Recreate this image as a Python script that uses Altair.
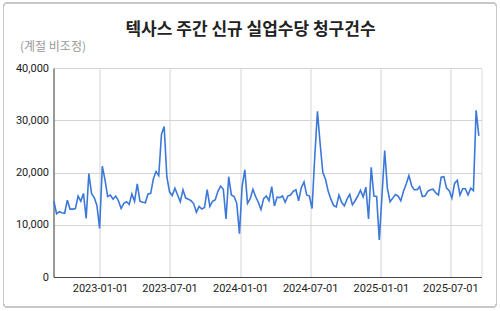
import altair as alt
import pandas as pd

start_date = "2022-09-03"
claims = [
    14500, 12100, 12500, 12300, 12200, 14700, 13000, 13000, 13100, 15500,
    14500, 16000, 11200, 19800, 16000, 15200, 13700, 9300, 21200, 18600,
    15400, 15700, 14900, 15500, 14600, 13100, 14100, 14400, 13900, 15900,
    14500, 17800, 14500, 14300, 14200, 15900, 16000, 18800, 20200, 19400,
    27300, 28800, 19200, 16300, 15600, 17000, 15700, 14400, 16700, 15100,
    14900, 14600, 14000, 12400, 13500, 13000, 13300, 16700, 13500, 14500,
    14800, 16400, 17400, 16800, 11100, 19200, 15700, 15400, 14100, 8300,
    17400, 20500, 14100, 15000, 16800, 15400, 14300, 12900, 15000, 15500,
    14600, 17300, 13600, 15300, 15200, 15500, 14300, 15500, 15700, 16400,
    16700, 14600, 17100, 18200, 15700, 15500, 13100, 23000, 31700, 25500,
    20000, 18700, 16400, 14900, 13700, 13400, 15700, 14300, 13600, 14900,
    15800, 13800, 14600, 15500, 16600, 15300, 17200, 11100, 21000, 15500,
    15400, 7100, 15600, 24200, 17000, 14400, 15100, 15800, 15500, 14600,
    16400, 17800, 19400, 17500, 16700, 16700, 17300, 15400, 15500, 16400,
    16700, 16800, 16100, 15700, 19100, 19200, 17000, 16500, 15100, 17900,
    18500, 15700, 16900, 16900, 15700, 17000, 16500, 31900, 27000,
]
dates = pd.date_range(start_date, periods=len(claims), freq="7D").strftime("%Y-%m-%d").tolist()
tick_dates = [(2023, 1), (2023, 7), (2024, 1), (2024, 7), (2025, 1), (2025, 7)]
y_ticks = [0, 10000, 20000, 30000, 40000]

df = pd.DataFrame({"date": dates, "claims": claims})

line = alt.Chart(df).mark_line(color="#3c78d8", strokeWidth=1.6).encode(
    x=alt.X(
        "date:T",
        scale=alt.Scale(
            type="utc",
            domain=[alt.DateTime(year=2022, month=9, date=2, utc=True),
                    alt.DateTime(year=2025, month=9, date=20, utc=True)],
        ),
        axis=alt.Axis(
            values=[alt.DateTime(year=y, month=m, date=1, utc=True) for y, m in tick_dates],
            format="%Y-%m-%d",
            title=None,
            grid=True,
            gridColor="#d4d4d4",
            domainColor="#444",
            domainWidth=1,
            ticks=False,
            labelFontSize=11,
            labelFont="Roboto",
            labelColor="#222",
            labelPadding=5,
        ),
    ),
    y=alt.Y(
        "claims:Q",
        scale=alt.Scale(domain=[0, 40000]),
        axis=alt.Axis(
            values=y_ticks,
            format=",.0f",
            title="(계절 비조정)",
            titleAngle=0,
            titleX=-34,
            titleY=-22,
            titleAlign="left",
            titleBaseline="middle",
            titleFont="Noto Sans CJK KR",
            titleFontSize=12,
            titleFontWeight="normal",
            titleColor="#999",
            grid=True,
            gridColor="#d4d4d4",
            domainColor="#444",
            ticks=False,
            labelFontSize=11,
            labelFont="Roboto",
            labelColor="#222",
            labelPadding=5,
        ),
    ),
)

frame = alt.Chart(df).mark_rect(
    fill=None, stroke="#c8c8c8", strokeWidth=1, cornerRadius=3
).encode(
    x=alt.value(-50), x2=alt.value(443), y=alt.value(-65), y2=alt.value(239)
)

chart = alt.layer(frame, line).properties(
    width=428,
    height=209,
    autosize=alt.AutoSizeParams(type="none"),
    padding={"left": 53.5, "top": 68, "right": 18.5, "bottom": 34},
    title=alt.TitleParams(
        "텍사스 주간 신규 실업수당 청구건수",
        anchor="middle",
        dx=-17,
        dy=40,
        font="Noto Sans CJK KR",
        fontSize=17,
        fontWeight="bold",
        color="#222",
        offset=4,
    ),
).configure_view(strokeWidth=0).configure(background="white")

chart.save("out.html", embed_options={"renderer": "svg", "actions": False})
